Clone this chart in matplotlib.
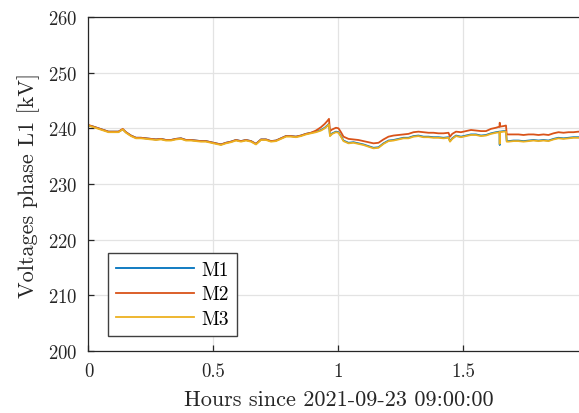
import numpy as np
import matplotlib
matplotlib.use("Agg")
import matplotlib.pyplot as plt

plt.rcParams['font.family'] = 'serif'
plt.rcParams['font.serif'] = ['cmr10', 'DejaVu Serif']
plt.rcParams['axes.formatter.use_mathtext'] = True

# hours since start
hours = [0.00, 0.02, 0.04, 0.06, 0.08, 0.10, 0.12, 0.137, 0.15, 0.17,
         0.19, 0.21, 0.23, 0.25, 0.27, 0.29, 0.31, 0.33, 0.35, 0.37,
         0.39, 0.41, 0.43, 0.45, 0.47, 0.49, 0.51, 0.53, 0.55, 0.57,
         0.59, 0.61, 0.63, 0.65, 0.67, 0.69, 0.71, 0.73, 0.75, 0.77,
         0.79, 0.81, 0.83, 0.85, 0.87, 0.89, 0.91, 0.93, 0.945, 0.955,
         0.962, 0.966, 0.975, 0.99, 1.00, 1.01, 1.02, 1.04, 1.06, 1.08,
         1.10, 1.12, 1.14, 1.16, 1.18, 1.20, 1.22, 1.24, 1.26, 1.28,
         1.30, 1.32, 1.34, 1.36, 1.38, 1.40, 1.42, 1.44, 1.446, 1.455,
         1.47, 1.49, 1.51, 1.53, 1.55, 1.57, 1.59, 1.61, 1.63, 1.644,
         1.645, 1.646, 1.66, 1.670, 1.673, 1.68, 1.70, 1.72, 1.74, 1.76,
         1.78, 1.80, 1.82, 1.84, 1.86, 1.88, 1.90, 1.92, 1.94, 1.96,
         1.98, 2.00]

m1 = [240.5, 240.3, 240.0, 239.7, 239.4, 239.4, 239.4, 239.8, 239.3, 238.7,
      238.3, 238.3, 238.2, 238.1, 238.0, 238.1, 237.9, 237.9, 238.1, 238.2,
      237.9, 237.9, 237.8, 237.7, 237.7, 237.5, 237.3, 237.1, 237.4, 237.6,
      237.9, 237.7, 237.9, 237.7, 237.2, 238.0, 238.0, 237.7, 237.8, 238.2,
      238.6, 238.6, 238.5, 238.7, 239.0, 239.2, 239.4, 239.7, 240.1, 240.5,
      240.8, 238.7, 239.1, 239.4, 239.3, 238.6, 237.8, 237.4, 237.5, 237.3,
      237.1, 236.8, 236.5, 236.6, 237.3, 237.8, 237.9, 238.1, 238.3, 238.3,
      238.6, 238.7, 238.5, 238.5, 238.4, 238.4, 238.3, 238.4, 237.7, 238.2,
      238.7, 238.5, 238.7, 238.9, 238.9, 238.7, 238.8, 239.1, 239.3, 239.4,
      237.0, 239.4, 239.5, 239.5, 237.7, 237.7, 237.8, 237.8, 237.7, 237.8,
      237.9, 237.8, 237.9, 237.8, 238.1, 238.3, 238.2, 238.3, 238.4, 238.4,
      238.3, 238.4]

m2 = [240.6, 240.3, 240.0, 239.7, 239.4, 239.4, 239.4, 239.9, 239.3, 238.7,
      238.3, 238.3, 238.2, 238.1, 238.0, 238.1, 237.9, 237.9, 238.1, 238.2,
      237.9, 237.9, 237.8, 237.7, 237.7, 237.5, 237.3, 237.1, 237.4, 237.6,
      237.9, 237.7, 237.9, 237.7, 237.2, 238.0, 238.0, 237.7, 237.8, 238.2,
      238.6, 238.6, 238.5, 238.7, 239.0, 239.2, 239.6, 240.2, 240.8, 241.3,
      241.7, 239.5, 239.8, 240.1, 240.0, 239.3, 238.5, 238.1, 238.0, 237.9,
      237.7, 237.5, 237.3, 237.4, 238.0, 238.5, 238.7, 238.8, 238.9, 239.0,
      239.3, 239.4, 239.3, 239.2, 239.2, 239.1, 239.1, 239.2, 238.5, 239.0,
      239.4, 239.3, 239.5, 239.7, 239.6, 239.5, 239.5, 239.9, 240.1, 240.3,
      241.0, 240.3, 240.4, 240.5, 238.9, 238.9, 238.9, 238.9, 238.8, 238.9,
      238.9, 238.8, 238.9, 238.8, 239.1, 239.3, 239.2, 239.3, 239.3, 239.4,
      239.3, 239.4]

m3 = [240.5, 240.2, 239.9, 239.6, 239.3, 239.3, 239.3, 239.8, 239.2, 238.6,
      238.2, 238.2, 238.1, 238.0, 237.9, 238.0, 237.8, 237.8, 238.0, 238.1,
      237.8, 237.8, 237.7, 237.6, 237.6, 237.4, 237.2, 237.0, 237.3, 237.5,
      237.8, 237.6, 237.8, 237.6, 237.1, 237.9, 237.9, 237.6, 237.7, 238.1,
      238.5, 238.5, 238.4, 238.6, 238.9, 239.1, 239.3, 239.6, 240.0, 240.4,
      240.7, 238.6, 239.0, 239.3, 239.2, 238.5, 237.7, 237.3, 237.4, 237.2,
      237.0, 236.7, 236.4, 236.5, 237.2, 237.7, 237.8, 238.0, 238.2, 238.2,
      238.5, 238.6, 238.4, 238.4, 238.3, 238.3, 238.2, 238.3, 237.6, 238.1,
      238.6, 238.4, 238.6, 238.8, 238.8, 238.6, 238.7, 239.0, 239.2, 239.3,
      237.2, 239.3, 239.4, 239.4, 237.6, 237.6, 237.7, 237.7, 237.6, 237.7,
      237.8, 237.7, 237.8, 237.7, 238.0, 238.2, 238.1, 238.2, 238.3, 238.3,
      238.2, 238.3]

labels = ['M1', 'M2', 'M3']
colors = ['#0072BD', '#D95319', '#EDB120']

fig = plt.figure(figsize=(5.79, 4.14), dpi=100)
# axes run past the right edge, like the cropped original
ax = fig.add_axes([0.1528, 0.1498, 0.8636, 0.8068])

for y, lab, col in zip([m1, m2, m3], labels, colors):
    ax.plot(hours, y, color=col, lw=1.3, label=lab)

ax.set_xlim(0, 2)
ax.set_ylim(200, 260)
ax.set_xticks([0, 0.5, 1, 1.5])
ax.set_xticklabels(['0', '0.5', '1', '1.5'])
ax.set_yticks(np.arange(200, 261, 10))

ax.grid(True, color='#e3e3e3', lw=0.9)
ax.set_axisbelow(True)
for s in ax.spines.values():
    s.set_color('#262626')
    s.set_linewidth(0.9)
ax.tick_params(direction='in', length=4, width=0.9, color='#262626',
               labelsize=13.5, labelcolor='#262626', pad=8)

ax.set_xlabel('Hours since 2021-09-23 09:00:00', fontsize=16, color='#262626', labelpad=7)
ax.set_ylabel('Voltages phase L1 [kV]', fontsize=16, color='#262626', labelpad=6)

leg = ax.legend(loc='lower left', bbox_to_anchor=(0.04, 0.045), borderaxespad=0,
                fontsize=14, handlelength=4.0, fancybox=False, framealpha=1,
                edgecolor='#404040', borderpad=0.4, labelspacing=0.35,
                handletextpad=0.4)
leg.get_frame().set_linewidth(1.0)

fig.savefig('out.png', dpi=100)
